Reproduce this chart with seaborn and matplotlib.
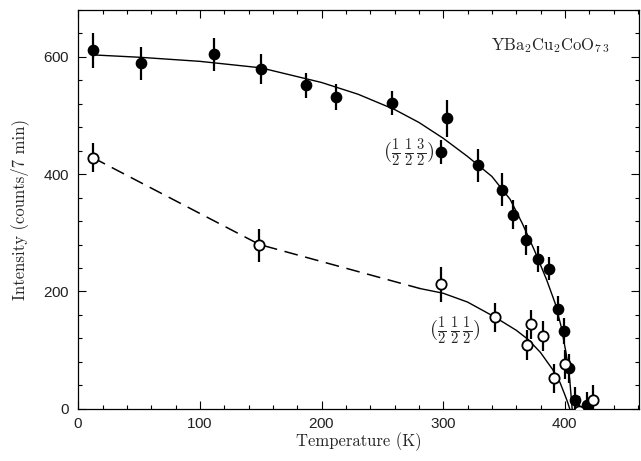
import numpy as np
import pandas as pd
import matplotlib
matplotlib.use("Agg")
import matplotlib.pyplot as plt
from matplotlib.ticker import MultipleLocator
import seaborn as sns

# (1/2 1/2 3/2) reflection, filled circles
t_332 = [12, 52, 112, 150, 187, 212, 258, 303, 298, 329, 348, 357, 368, 378, 387, 394, 399, 403.5, 408.5, 418]
i_332 = [611, 589, 604, 579, 551, 531, 521, 495, 438, 415, 373, 331, 288, 255, 239, 171, 133, 69, 15, 7]
e_332 = [30, 28, 28, 25, 22, 22, 20, 32, 20, 28, 28, 25, 25, 22, 20, 22, 22, 25, 22, 22]

# (1/2 1/2 1/2) reflection, open circles
t_111 = [12, 149, 298, 342.5, 372, 369, 382, 391, 400.5, 411.5, 423]
i_111 = [428, 279, 212, 156, 144, 109, 124, 52, 76, -3, 15]
e_111 = [25, 28, 30, 25, 25, 25, 25, 25, 25, 25, 25]

# solid curve through filled points
fit_t_332 = [12, 50, 100, 150, 200, 230, 260, 280, 300, 320, 340, 355, 365, 375, 385, 392, 397, 401, 404, 406]
fit_i_332 = [603, 599, 592, 581, 556, 536, 510, 488, 461, 430, 396, 357, 316, 270, 220, 180, 140, 95, 50, 0]

# dashed + solid curve for open points
dash_t_111 = [12, 149, 200, 281]
dash_i_111 = [428, 280, 251, 205]
fit_t_111 = [281, 300, 320, 342, 360, 370, 380, 390, 396, 400, 402.5, 404]
fit_i_111 = [205, 197, 182, 157, 134, 118, 96, 67, 45, 24, 10, 0]

sns.set_theme(style="ticks")
plt.rcParams["font.family"] = ["cmr10", "DejaVu Serif"]
plt.rcParams["mathtext.fontset"] = "cm"
plt.rcParams["axes.formatter.use_mathtext"] = True

fig = plt.figure(figsize=(6.41, 4.61), dpi=100)
ax = fig.add_axes([0.122, 0.113, 0.875, 0.866])

df_fit = pd.DataFrame({"T": fit_t_332, "I": fit_i_332})
sns.lineplot(data=df_fit, x="T", y="I", ax=ax, color="black", lw=1.0, sort=False)
df_dash = pd.DataFrame({"T": dash_t_111, "I": dash_i_111})
sns.lineplot(data=df_dash, x="T", y="I", ax=ax, color="black", lw=1.1, sort=False,
             linestyle=(0, (9, 5)))
df_fit2 = pd.DataFrame({"T": fit_t_111, "I": fit_i_111})
sns.lineplot(data=df_fit2, x="T", y="I", ax=ax, color="black", lw=1.0, sort=False)

ax.errorbar(t_332, i_332, yerr=e_332, fmt="none", ecolor="black", elinewidth=1.6, capsize=0)
ax.errorbar(t_111, i_111, yerr=e_111, fmt="none", ecolor="black", elinewidth=1.6, capsize=0)

df_f = pd.DataFrame({"T": t_332, "I": i_332})
sns.scatterplot(data=df_f, x="T", y="I", ax=ax, color="black", s=55, edgecolor="black",
                linewidth=1, zorder=5)
df_o = pd.DataFrame({"T": t_111, "I": i_111})
sns.scatterplot(data=df_o, x="T", y="I", ax=ax, color="white", s=55, edgecolor="black",
                linewidth=1.3, zorder=6)

ax.set_xlim(0, 461)
ax.set_ylim(0, 680)
ax.xaxis.set_major_locator(MultipleLocator(100))
ax.xaxis.set_minor_locator(MultipleLocator(20))
ax.yaxis.set_major_locator(MultipleLocator(200))
ax.yaxis.set_minor_locator(MultipleLocator(40))
ax.tick_params(which="both", direction="in", top=True, right=True, width=0.8, color="black")
ax.tick_params(which="major", length=6, pad=6)
ax.tick_params(which="minor", length=3)
for lab in ax.get_xticklabels() + ax.get_yticklabels():
    lab.set_fontfamily("Liberation Sans")
    lab.set_fontsize(11)
    lab.set_color("#222222")
for sp in ax.spines.values():
    sp.set_linewidth(0.9)
    sp.set_color("black")

ax.set_xlabel("Temperature (K)", fontsize=12, labelpad=1)
ax.set_ylabel("Intensity (counts/7 min)", fontsize=12, labelpad=10)

ax.text(437, 618, r"YBa$_2$Cu$_2$CoO$_{7\;3}$", fontsize=12, ha="right", va="center")
ax.text(272, 437, r"$(\frac{1}{2}\,\frac{1}{2}\,\frac{3}{2})$", fontsize=15, ha="center", va="center")
ax.text(310, 133, r"$(\frac{1}{2}\,\frac{1}{2}\,\frac{1}{2})$", fontsize=15, ha="center", va="center")

fig.savefig("out.png", dpi=100)
